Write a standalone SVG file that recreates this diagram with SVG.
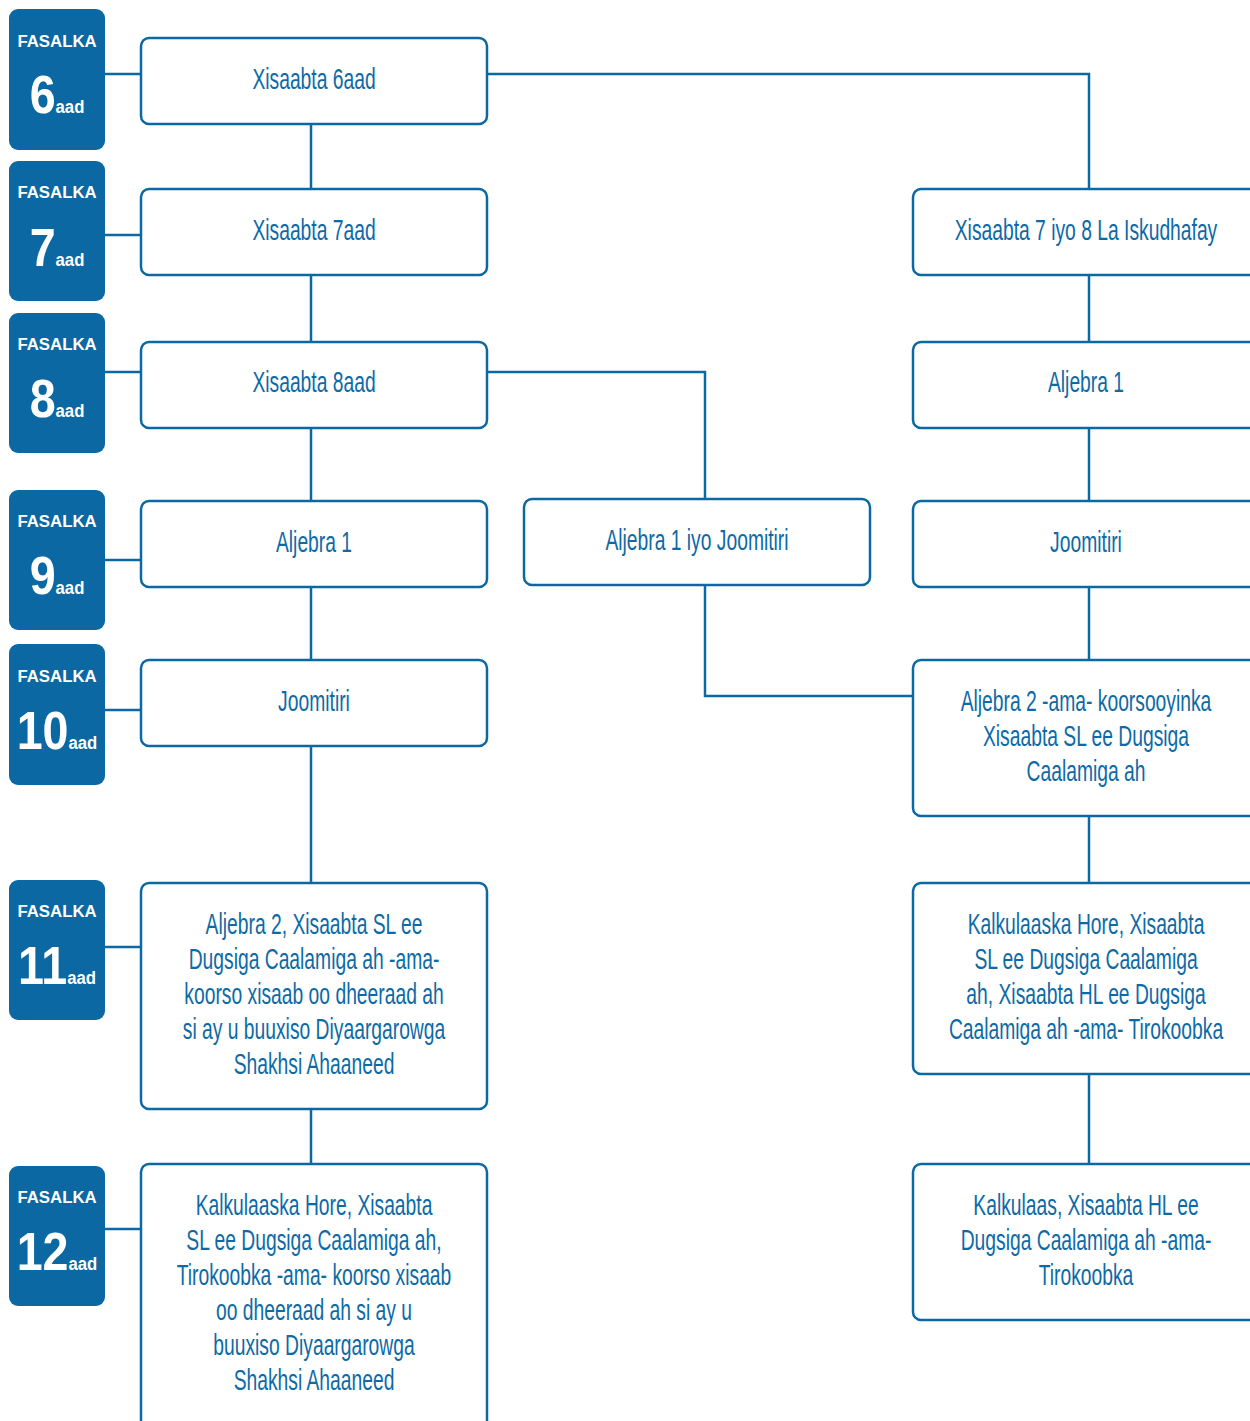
<svg xmlns="http://www.w3.org/2000/svg" width="1250" height="1421" viewBox="0 0 1250 1421">
<style>
.badge{fill:#0b68a2}
.bt{fill:#fff;font-family:"Liberation Sans",Arial,sans-serif;font-weight:bold;text-anchor:middle}
.lbl{font-size:16.8px}
.num{font-size:53px}
.sup{font-size:19px}
.box{fill:#fff;stroke:#0b68a2;stroke-width:2.5}
.tx{fill:#0d6aa6;font-family:"Liberation Sans",Arial,sans-serif;font-size:29px;text-anchor:middle}
.con{fill:none;stroke:#0b68a2;stroke-width:2.5}
</style>
<rect width="1250" height="1421" fill="#fff"/>
<g id="connectors" class="con">
<path d="M105 74H141M105 235H141M105 372H141M105 560H141M105 710H141M105 947H141M105 1229H141"/>
<path d="M311 124V189M311 275V342M311 428V501M311 587V660M311 746V883M311 1109V1164"/>
<path d="M487 74H1089V189"/>
<path d="M1089 275V342M1089 428V501M1089 587V660M1089 816V883M1089 1074V1164"/>
<path d="M487 372H705V499"/>
<path d="M705 585V696H913"/>
</g>
<g id="grade6"><rect class="badge" x="9" y="9" width="96" height="141" rx="9"/><text class="bt lbl" x="57" y="47">FASALKA</text><text class="bt" transform="translate(57,113) scale(0.88,1)"><tspan class="num">6</tspan><tspan class="sup">aad</tspan></text></g>
<g id="grade7"><rect class="badge" x="9" y="161" width="96" height="140" rx="9"/><text class="bt lbl" x="57" y="198">FASALKA</text><text class="bt" transform="translate(57,266) scale(0.88,1)"><tspan class="num">7</tspan><tspan class="sup">aad</tspan></text></g>
<g id="grade8"><rect class="badge" x="9" y="313" width="96" height="140" rx="9"/><text class="bt lbl" x="57" y="350">FASALKA</text><text class="bt" transform="translate(57,417) scale(0.88,1)"><tspan class="num">8</tspan><tspan class="sup">aad</tspan></text></g>
<g id="grade9"><rect class="badge" x="9" y="490" width="96" height="140" rx="9"/><text class="bt lbl" x="57" y="527">FASALKA</text><text class="bt" transform="translate(57,594) scale(0.88,1)"><tspan class="num">9</tspan><tspan class="sup">aad</tspan></text></g>
<g id="grade10"><rect class="badge" x="9" y="644" width="96" height="141" rx="9"/><text class="bt lbl" x="57" y="682">FASALKA</text><text class="bt" transform="translate(57,749) scale(0.88,1)"><tspan class="num">10</tspan><tspan class="sup">aad</tspan></text></g>
<g id="grade11"><rect class="badge" x="9" y="880" width="96" height="140" rx="9"/><text class="bt lbl" x="57" y="917">FASALKA</text><text class="bt" transform="translate(57,984) scale(0.88,1)"><tspan class="num">11</tspan><tspan class="sup">aad</tspan></text></g>
<g id="grade12"><rect class="badge" x="9" y="1166" width="96" height="140" rx="9"/><text class="bt lbl" x="57" y="1203">FASALKA</text><text class="bt" transform="translate(57,1270) scale(0.88,1)"><tspan class="num">12</tspan><tspan class="sup">aad</tspan></text></g>

<g id="l6"><rect class="box" x="141" y="38" width="346" height="86" rx="8"/><text class="tx" transform="translate(314,89) scale(0.665,1)">Xisaabta 6aad</text></g>
<g id="l7"><rect class="box" x="141" y="189" width="346" height="86" rx="8"/><text class="tx" transform="translate(314,240) scale(0.665,1)">Xisaabta 7aad</text></g>
<g id="l8"><rect class="box" x="141" y="342" width="346" height="86" rx="8"/><text class="tx" transform="translate(314,392) scale(0.665,1)">Xisaabta 8aad</text></g>
<g id="l9"><rect class="box" x="141" y="501" width="346" height="86" rx="8"/><text class="tx" transform="translate(314,552) scale(0.665,1)">Aljebra 1</text></g>
<g id="l10"><rect class="box" x="141" y="660" width="346" height="86" rx="8"/><text class="tx" transform="translate(314,711) scale(0.665,1)">Joomitiri</text></g>
<g id="l11"><rect class="box" x="141" y="883" width="346" height="226" rx="8"/><text class="tx" transform="translate(314,0) scale(0.665,1)"><tspan x="0" y="934">Aljebra 2, Xisaabta SL ee</tspan><tspan x="0" y="969">Dugsiga Caalamiga ah -ama-</tspan><tspan x="0" y="1004">koorso xisaab oo dheeraad ah</tspan><tspan x="0" y="1039">si ay u buuxiso Diyaargarowga</tspan><tspan x="0" y="1074">Shakhsi Ahaaneed</tspan></text></g>
<g id="l12"><rect class="box" x="141" y="1164" width="346" height="280" rx="8"/><text class="tx" transform="translate(314,0) scale(0.665,1)"><tspan x="0" y="1215">Kalkulaaska Hore, Xisaabta</tspan><tspan x="0" y="1250">SL ee Dugsiga Caalamiga ah,</tspan><tspan x="0" y="1285">Tirokoobka -ama- koorso xisaab</tspan><tspan x="0" y="1320">oo dheeraad ah si ay u</tspan><tspan x="0" y="1355">buuxiso Diyaargarowga</tspan><tspan x="0" y="1390">Shakhsi Ahaaneed</tspan></text></g>

<g id="m9"><rect class="box" x="524" y="499" width="346" height="86" rx="8"/><text class="tx" transform="translate(697,550) scale(0.665,1)">Aljebra 1 iyo Joomitiri</text></g>

<g id="r7"><rect class="box" x="913" y="189" width="346" height="86" rx="8"/><text class="tx" transform="translate(1086,240) scale(0.665,1)">Xisaabta 7 iyo 8 La Iskudhafay</text></g>
<g id="r8"><rect class="box" x="913" y="342" width="346" height="86" rx="8"/><text class="tx" transform="translate(1086,392) scale(0.665,1)">Aljebra 1</text></g>
<g id="r9"><rect class="box" x="913" y="501" width="346" height="86" rx="8"/><text class="tx" transform="translate(1086,552) scale(0.665,1)">Joomitiri</text></g>
<g id="r10"><rect class="box" x="913" y="660" width="346" height="156" rx="8"/><text class="tx" transform="translate(1086,0) scale(0.665,1)"><tspan x="0" y="711">Aljebra 2 -ama- koorsooyinka</tspan><tspan x="0" y="746">Xisaabta SL ee Dugsiga</tspan><tspan x="0" y="781">Caalamiga ah</tspan></text></g>
<g id="r11"><rect class="box" x="913" y="883" width="346" height="191" rx="8"/><text class="tx" transform="translate(1086,0) scale(0.665,1)"><tspan x="0" y="934">Kalkulaaska Hore, Xisaabta</tspan><tspan x="0" y="969">SL ee Dugsiga Caalamiga</tspan><tspan x="0" y="1004">ah, Xisaabta HL ee Dugsiga</tspan><tspan x="0" y="1039">Caalamiga ah -ama- Tirokoobka</tspan></text></g>
<g id="r12"><rect class="box" x="913" y="1164" width="346" height="156" rx="8"/><text class="tx" transform="translate(1086,0) scale(0.665,1)"><tspan x="0" y="1215">Kalkulaas, Xisaabta HL ee</tspan><tspan x="0" y="1250">Dugsiga Caalamiga ah -ama-</tspan><tspan x="0" y="1285">Tirokoobka</tspan></text></g>
</svg>
